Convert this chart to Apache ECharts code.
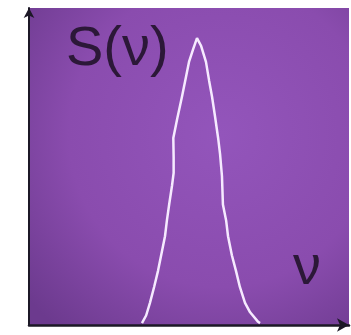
<!DOCTYPE html>
<html>
<head>
<meta charset="utf-8">
<script src="https://cdn.jsdelivr.net/npm/echarts@6/dist/echarts.min.js"></script>
<style>
  html, body { margin: 0; padding: 0; background: #fff; }
  #chart { width: 351px; height: 335px; }
</style>
</head>
<body>
<div id="chart"></div>
<script>
// frequency (arbitrary units) and spectral density S(nu)
const nu = [3.53, 3.66, 3.78, 3.91, 4.03, 4.13, 4.25, 4.31, 4.38, 4.47, 4.52, 4.52, 4.51,
  4.63, 4.78, 4.88, 5.00, 5.13, 5.25, 5.38, 5.53, 5.63, 5.72, 5.81, 5.91, 5.97, 6.03,
  6.06, 6.16, 6.22, 6.34, 6.47, 6.59, 6.75, 6.91, 7.16, 7.22];
const S = [0.006, 0.03, 0.07, 0.12, 0.17, 0.22, 0.28, 0.33, 0.38, 0.44, 0.48, 0.53, 0.59,
  0.65, 0.72, 0.77, 0.83, 0.87, 0.905, 0.88, 0.83, 0.77, 0.72, 0.66, 0.59, 0.54, 0.47,
  0.38, 0.33, 0.28, 0.22, 0.17, 0.12, 0.07, 0.04, 0.01, 0.006];

const chart = echarts.init(document.getElementById('chart'));
const axisColor = '#1c1826';

chart.setOption({
  animation: false,
  backgroundColor: '#ffffff',
  grid: {
    left: 29, right: 2, top: 8, bottom: 10,
    show: true,
    borderWidth: 0,
    backgroundColor: new echarts.graphic.RadialGradient(0.6, 0.4, 0.8, [
      { offset: 0, color: '#9355bb' },
      { offset: 0.6, color: '#8a4cae' },
      { offset: 1, color: '#6c3a8e' }
    ])
  },
  xAxis: {
    type: 'value', min: 0, max: 10,
    axisLine: { lineStyle: { color: axisColor, width: 2.5 }, symbol: ['none', 'arrow'], symbolSize: [10, 12] },
    axisTick: { show: false }, axisLabel: { show: false }, splitLine: { show: false }
  },
  yAxis: {
    type: 'value', min: 0, max: 1,
    axisLine: { lineStyle: { color: axisColor, width: 2 }, symbol: ['none', 'arrow'], symbolSize: [8, 10] },
    axisTick: { show: false }, axisLabel: { show: false }, splitLine: { show: false }
  },
  graphic: [
    {
      type: 'text', left: 66, top: 22, z: 10,
      style: { text: 'S(ν)', fill: '#2c1838', font: '56px "Liberation Sans", Arial, sans-serif' }
    },
    {
      type: 'text', left: 293, top: 241, z: 10,
      style: { text: 'ν', fill: '#2c1838', font: '56px "Liberation Sans", Arial, sans-serif' }
    }
  ],
  series: [{
    type: 'line',
    data: nu.map((v, i) => [v, S[i]]),
    showSymbol: false,
    lineStyle: { color: '#f6eaff', width: 2.5 }
  }]
});
</script>
</body>
</html>
